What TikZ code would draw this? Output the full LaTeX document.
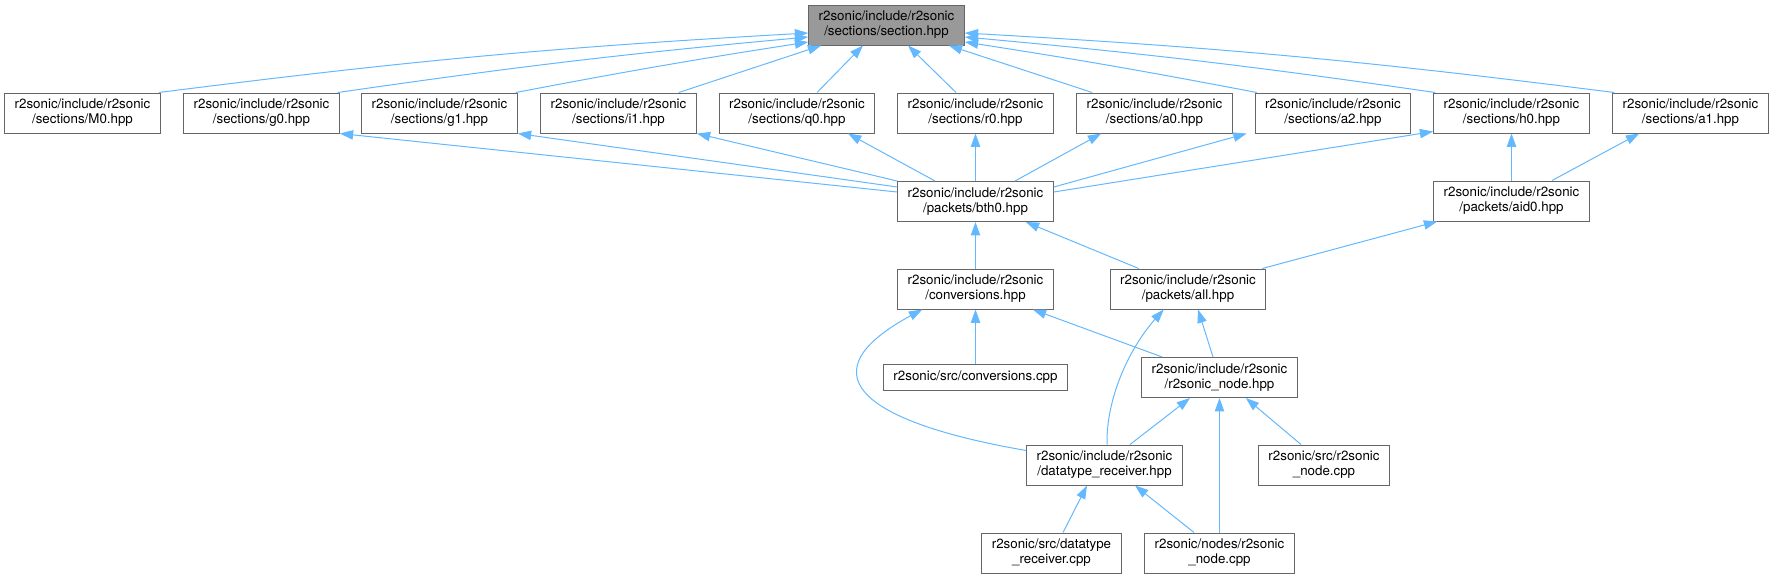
\documentclass[tikz,border=0pt]{standalone}
\usepackage{fontspec}
\setmainfont{TeX Gyre Heros}
\usetikzlibrary{arrows.meta}
\definecolor{edgeblue}{HTML}{63B8FF}
\definecolor{boxline}{HTML}{666666}
\definecolor{rootfill}{HTML}{999999}

\begin{document}
\begin{tikzpicture}[x=0.75pt, y=-0.75pt,
        file/.style={draw=boxline, line width=0.75pt, fill=white, align=center, inner xsep=7.5pt, inner ysep=2pt, minimum height=30pt, font=\fontsize{10}{11.25}\selectfont},
        root/.style={file, fill=rootfill},
        dep/.style={draw=edgeblue, line width=0.75pt, -{Triangle[length=10pt, width=7pt]}}]
        \useasboundingbox (0,0) rectangle (1773,579);
        \node[root] (section) at (886.5,25) {r2sonic/include/r2sonic\\/sections/section.hpp};
        \node[file] (M0) at (82.5,113) {r2sonic/include/r2sonic\\/sections/M0.hpp};
        \node[file] (g0) at (261.5,113) {r2sonic/include/r2sonic\\/sections/g0.hpp};
        \node[file] (g1) at (439.5,113) {r2sonic/include/r2sonic\\/sections/g1.hpp};
        \node[file] (i1) at (618.5,113) {r2sonic/include/r2sonic\\/sections/i1.hpp};
        \node[file] (q0) at (797,113) {r2sonic/include/r2sonic\\/sections/q0.hpp};
        \node[file] (r0) at (975.5,113) {r2sonic/include/r2sonic\\/sections/r0.hpp};
        \node[file] (a0) at (1154.5,113) {r2sonic/include/r2sonic\\/sections/a0.hpp};
        \node[file] (a2) at (1333,113) {r2sonic/include/r2sonic\\/sections/a2.hpp};
        \node[file] (h0) at (1511.5,113) {r2sonic/include/r2sonic\\/sections/h0.hpp};
        \node[file] (a1) at (1690.5,113) {r2sonic/include/r2sonic\\/sections/a1.hpp};
        \node[file] (bth0) at (975.5,201.5) {r2sonic/include/r2sonic\\/packets/bth0.hpp};
        \node[file] (aid0) at (1511.5,201) {r2sonic/include/r2sonic\\/packets/aid0.hpp};
        \node[file] (conv) at (975.5,289) {r2sonic/include/r2sonic\\/conversions.hpp};
        \node[file] (all) at (1188,289) {r2sonic/include/r2sonic\\/packets/all.hpp};
        \node[file, minimum height=19.5pt] (convcpp) at (975.5,377) {r2sonic/src/conversions.cpp};
        \node[file] (r2node) at (1219.5,377.5) {r2sonic/include/r2sonic\\/r2sonic\_node.hpp};
        \node[file] (dtr) at (1104.5,465) {r2sonic/include/r2sonic\\/datatype\_receiver.hpp};
        \node[file] (srcnode) at (1324,465) {r2sonic/src/r2sonic\\\_node.cpp};
        \node[file] (srcdtr) at (1051.5,553) {r2sonic/src/datatype\\\_receiver.cpp};
        \node[file] (nodecpp) at (1219.5,553) {r2sonic/nodes/r2sonic\\\_node.cpp};
        \draw[dep] ([shift={(-2,0)}]M0.north east) to[bend left=2] ([shift={(0,8)}]section.west);
        \draw[dep] ([shift={(-2,0)}]g0.north east) to[bend left=1.5] ([shift={(0,12)}]section.west);
        \draw[dep] ([shift={(-2,0)}]g1.north east) to[bend left=1] ([shift={(0,17)}]section.west);
        \draw[dep] ([shift={(-18,0)}]i1.north east) -- ([shift={(13,0)}]section.south west);
        \draw[dep] ([shift={(20,0)}]q0.north) -- ([shift={(-23.5,0)}]section.south);
        \draw[dep] ([shift={(-19.5,0)}]r0.north) -- ([shift={(21.5,0)}]section.south);
        \draw[dep] ([shift={(16,0)}]a0.north west) -- ([shift={(-16,0)}]section.south east);
        \draw[dep] ([shift={(2,0)}]a2.north west) to[bend right=1] ([shift={(0,17)}]section.east);
        \draw[dep] ([shift={(2,0)}]h0.north west) to[bend right=1.5] ([shift={(0,12)}]section.east);
        \draw[dep] ([shift={(2,0)}]a1.north west) to[bend right=2] ([shift={(0,8)}]section.east);
        \draw[dep] ([shift={(0,11)}]bth0.north west) -- (g0.south east);
        \draw[dep] ([shift={(0,6)}]bth0.north west) -- (g1.south east);
        \draw[dep] (bth0.north west) -- (i1.south east);
        \draw[dep] ([shift={(-40.5,0)}]bth0.north) -- ([shift={(51,0)}]q0.south);
        \draw[dep] (bth0) -- (r0);
        \draw[dep] ([shift={(39.5,0)}]bth0.north) -- ([shift={(25,0)}]a0.south west);
        \draw[dep] ([shift={(0,6)}]bth0.north east) -- ([shift={(-8,0)}]a2.south west);
        \draw[dep] ([shift={(0,11)}]bth0.north east) -- ([shift={(0,-2)}]h0.south west);
        \draw[dep] (aid0) -- (h0);
        \draw[dep] ([shift={(40.5,0)}]aid0.north) -- ([shift={(27,0)}]a1.south west);
        \draw[dep] ([shift={(-4,0)}]all.north east) -- ([shift={(4,0)}]aid0.south west);
        \draw[dep] ([shift={(29,0)}]all.north west) -- ([shift={(-28,0)}]bth0.south east);
        \draw[dep] (conv) -- (bth0);
        \draw[dep] (convcpp) -- (conv);
        \draw[dep] ([shift={(21,0)}]r2node.north west) -- ([shift={(-21,0)}]conv.south east);
        \draw[dep] ([shift={(0,6)}]dtr.north west) .. controls (850,420) and (810,370) .. ([shift={(25,0)}]conv.south west);
        \draw[dep] ([shift={(-6.5,0)}]r2node.north) -- ([shift={(10,0)}]all.south);
        \draw[dep] ([shift={(2.5,0)}]dtr.north) .. controls (1106,395) and (1132,345) .. ([shift={(54,0)}]all.south west);
        \draw[dep] ([shift={(25.5,0)}]dtr.north) -- ([shift={(-29.5,0)}]r2node.south);
        \draw[dep] (nodecpp) -- (r2node);
        \draw[dep] ([shift={(-23,0)}]srcnode.north) -- ([shift={(-52,0)}]r2node.south east);
        \draw[dep] ([shift={(11.5,0)}]srcdtr.north) -- ([shift={(-17.5,0)}]dtr.south);
        \draw[dep] ([shift={(-25.5,0)}]nodecpp.north) -- ([shift={(30.5,0)}]dtr.south);
    \end{tikzpicture}
\end{document}
